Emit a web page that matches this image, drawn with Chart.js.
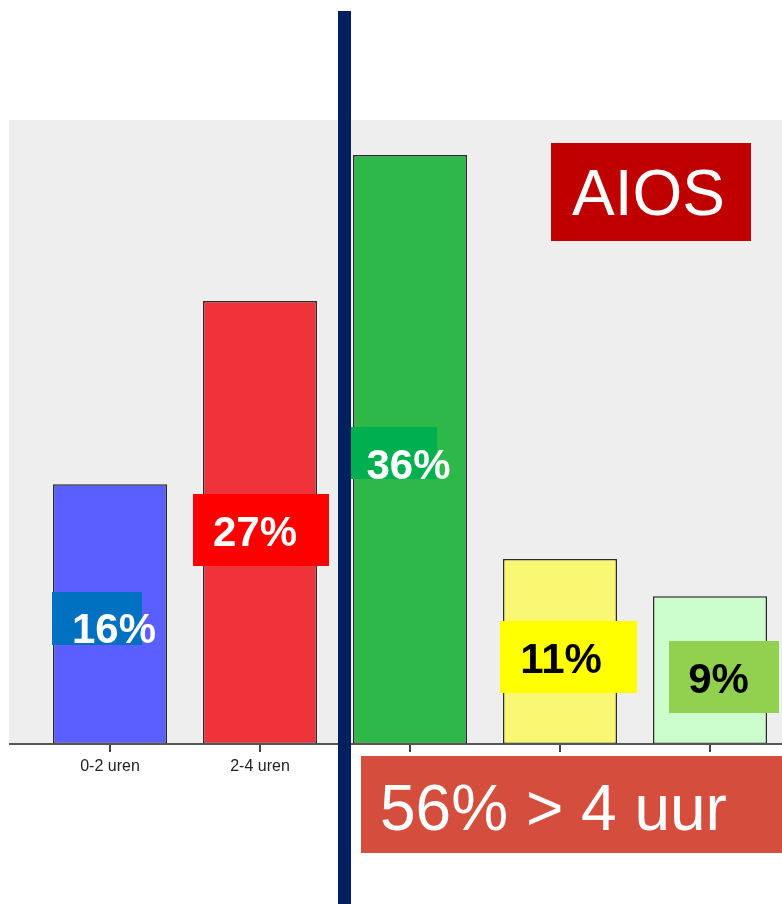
<!DOCTYPE html>
<html>
<head>
<meta charset="utf-8">
<script src="https://cdn.jsdelivr.net/npm/chart.js@4/dist/chart.umd.min.js"></script>
<style>
  html, body { margin: 0; padding: 0; background: #fff; overflow: hidden; }
  canvas { display: block; }
</style>
</head>
<body>
<canvas id="chart_uren" width="785" height="904"></canvas>
<script>
// data (percentages)
var categories = ["0-2 uren", "2-4 uren", "4-6 uren", "6-8 uren", "> 8 uren"];
var values = [16.0, 27.3, 36.3, 11.4, 9.1];
var barColors = ["#5b5fff", "#f0323a", "#2eb84a", "#faf772", "#ccfdcc"];
var valueLabels = ["16%", "27%", "36%", "11%", "9%"];
var labelBoxColors = ["#0070c0", "#ff0000", "#00b050", "#ffff00", "#92d050"];
var labelTextColors = ["#ffffff", "#ffffff", "#ffffff", "#000000", "#000000"];
var yMax = 38.45;

// box placement for the value labels, relative to the bar centre
var labelBoxes = [
    { dx: -58, top: 592, w: 90,  h: 53, tx: 4,    base: 643 },
    { dx: -67, top: 494, w: 136, h: 72, tx: -5,   base: 546 },
    { dx: -59, top: 427, w: 86,  h: 52, tx: -1.5, base: 479 },
    { dx: -60, top: 621, w: 137, h: 72, tx: 1,    base: 673 },
    { dx: -41, top: 641, w: 110, h: 72, tx: 8.5,  base: 693 }
];

var bgPlugin = {
    id: 'bgPlugin',
    beforeDraw: function(chart){
        var ctx = chart.ctx;
        var a = chart.chartArea;
        ctx.save();
        ctx.fillStyle = '#eeeeee';
        ctx.fillRect(9, a.top, chart.width - 9, a.bottom - a.top);
        ctx.restore();
    },
    afterDatasetsDraw: function(chart){
        var ctx = chart.ctx;
        var a = chart.chartArea;
        ctx.save();
        ctx.fillStyle = '#555555';
        ctx.fillRect(9, a.bottom - 1, chart.width - 9, 2);
        ctx.restore();
    },
    afterDraw: function(chart){
        var ctx = chart.ctx;
        var meta = chart.getDatasetMeta(0);
        ctx.save();
        // value labels
        ctx.font = 'bold 42px "Liberation Sans", Arial, sans-serif';
        ctx.textAlign = 'center';
        ctx.textBaseline = 'alphabetic';
        $each(meta.data, function(i, bar){
            var b = labelBoxes[i];
            ctx.fillStyle = labelBoxColors[i];
            ctx.fillRect(bar.x + b.dx, b.top, b.w, b.h);
            ctx.fillStyle = labelTextColors[i];
            ctx.fillText(valueLabels[i], bar.x + b.tx, b.base);
        });

        // AIOS tag
        ctx.fillStyle = '#c00000';
        ctx.fillRect(551, 143, 200, 98);
        ctx.fillStyle = '#ffffff';
        ctx.font = '64px "Liberation Sans", Arial, sans-serif';
        ctx.textAlign = 'left';
        ctx.fillText('AIOS', 572, 215);

        // summary box
        ctx.fillStyle = '#d54e3d';
        ctx.fillRect(361, 756, chart.width - 361, 97);
        ctx.fillStyle = '#ffffff';
        ctx.fillText('56% > 4 uur', 380, 830);

        // divider
        ctx.fillStyle = '#002060';
        ctx.fillRect(338, 11, 13, chart.height - 11);
        ctx.restore();
    }
};

function $each(arr, fn){
    for (var i = 0; i < arr.length; i++) fn(i, arr[i]);
}

var config = {
    type: 'bar',
    data: {
        labels: categories,
        datasets: [{
            data: values,
            backgroundColor: barColors,
            borderColor: '#2a2a2a',
            borderWidth: 1.5,
            borderSkipped: false,
            barPercentage: 0.76,
            categoryPercentage: 1
        }]
    },
    options: {
        responsive: false,
        animation: false,
        devicePixelRatio: 1,
        layout: { padding: { left: 35, top: 120, right: 0, bottom: 0 } },
        plugins: {
            legend: { display: false },
            tooltip: { enabled: false }
        },
        scales: {
            x: {
                offset: true,
                border: { display: false },
                grid: {
                    offset: false,
                    drawOnChartArea: false,
                    drawTicks: true,
                    tickLength: 8,
                    color: '#444444',
                    lineWidth: 2
                },
                ticks: {
                    color: '#222222',
                    padding: 5,
                    font: { family: '"Liberation Sans", Arial, sans-serif', size: 16 }
                },
                afterFit: function(scale){ scale.height = 160; }
            },
            y: {
                display: false,
                min: 0,
                max: yMax
            }
        }
    },
    plugins: [bgPlugin]
};

new Chart(document.getElementById('chart_uren').getContext('2d'), config);
</script>
</body>
</html>
